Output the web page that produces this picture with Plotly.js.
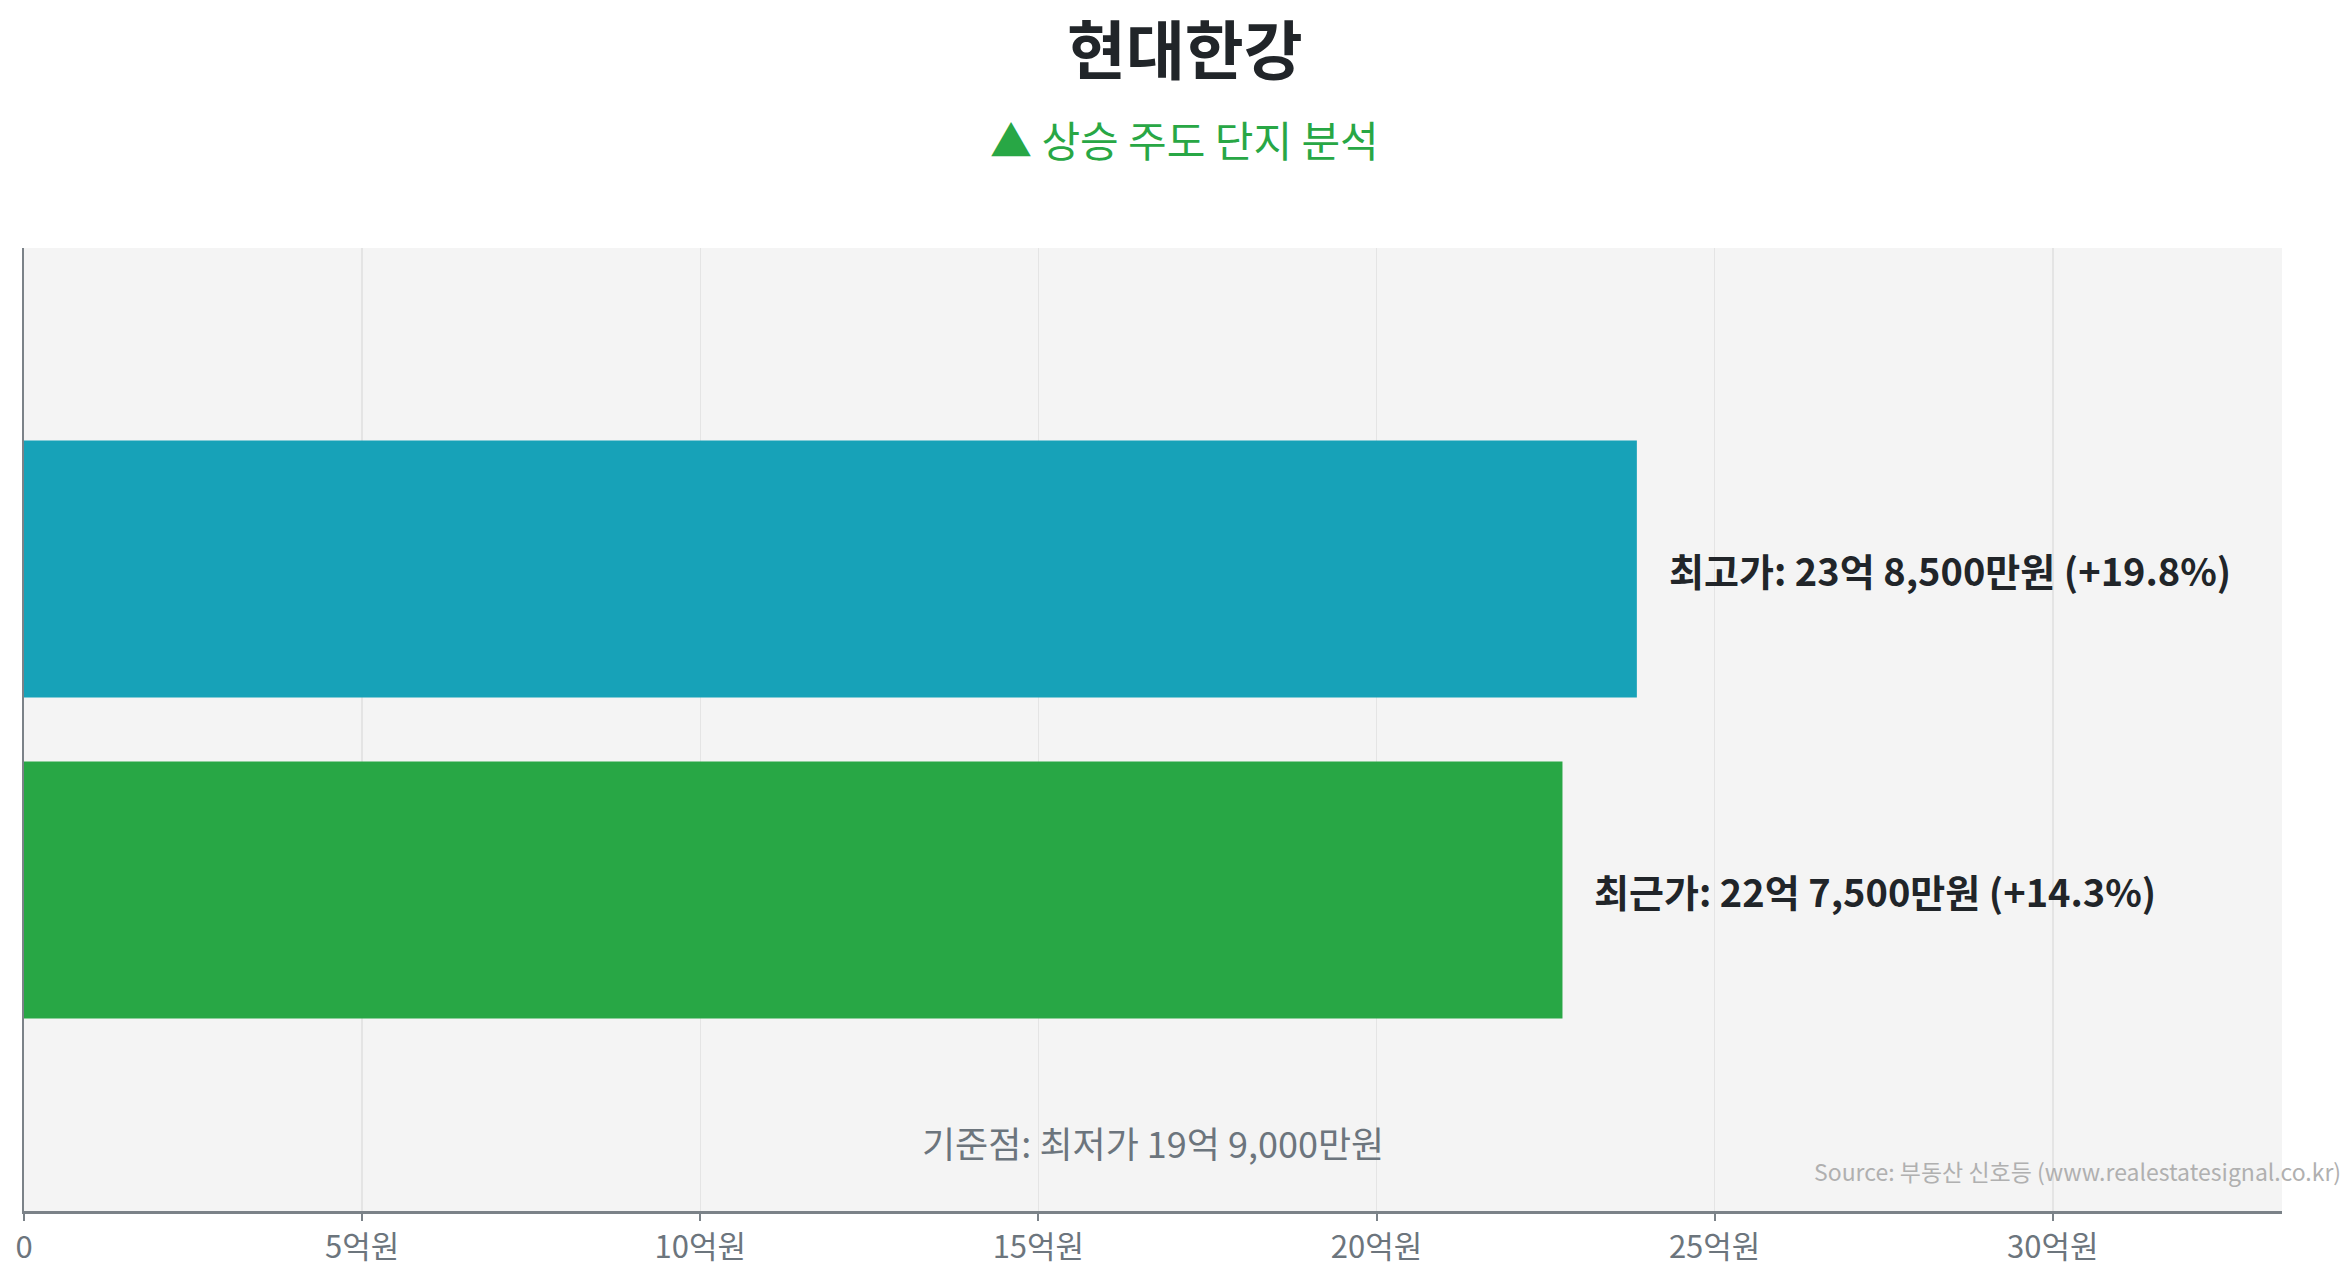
<!DOCTYPE html>
<html>
<head>
<meta charset="utf-8">
<script src="https://cdn.plot.ly/plotly-3.0.1.min.js"></script>
<style>
  html, body { margin: 0; padding: 0; background: #ffffff; }
  #chart { width: 2345px; height: 1268px; }
</style>
</head>
<body>
<div id="chart"></div>
<script>
// 단위: 억원
const categories = ['기준점', '최근가', '최고가'];
const prices = [null, 22.75, 23.85];
const barColors = ['#ffffff', '#28a745', '#17a2b8'];
const priceLabels = ['', '최근가: 22억 7,500만원 (+14.3%)', '최고가: 23억 8,500만원 (+19.8%)'];
const baseLabel = '기준점: 최저가 19억 9,000만원';
const tickVals = [0, 5, 10, 15, 20, 25, 30];
const tickText = ['0', '5억원', '10억원', '15억원', '20억원', '25억원', '30억원'];

const fontFamily = '"Noto Sans CJK KR", "Noto Sans", sans-serif';
const maxPrice = Math.max(...prices.filter(v => v !== null));

var trace = {
    type: 'bar', orientation: 'h',
    y: categories, x: prices,
    marker: { color: barColors },
    hoverinfo: 'skip'
};

// 막대 오른쪽 라벨
const labelAnnotations = categories.map((c, i) => ({
    x: prices[i], y: c, xref: 'x', yref: 'y',
    text: priceLabels[i] ? '<b>' + priceLabels[i] + '</b>' : '',
    showarrow: false, xanchor: 'left', xshift: 30,
    font: { family: fontFamily, size: 38, color: '#212529' }
})).filter(a => a.text);

const layout = {
    width: 2345, height: 1268,
    paper_bgcolor: '#ffffff', plot_bgcolor: '#f4f4f4',
    font: { family: fontFamily, color: '#6c757d' },
    margin: { t: 248, b: 57, l: 24, r: 63 },
    showlegend: false,
    bargap: 0.2,
    xaxis: {
        range: [0, maxPrice * 1.4],
        tickvals: tickVals, ticktext: tickText,
        tickfont: { family: fontFamily, size: 31, color: '#6c757d' },
        showgrid: true, gridcolor: '#e4e4e4', gridwidth: 1.5,
        zeroline: false,
        showline: true, linecolor: '#7b8288', linewidth: 3,
        ticks: 'outside', ticklen: 7, tickwidth: 2, tickcolor: '#7b8288'
    },
    yaxis: {
        range: [0, categories.length],
        showticklabels: false, showgrid: false, zeroline: false,
        showline: true, linecolor: '#7b8288', linewidth: 2
    },
    annotations: [
        // 제목
        {
            text: '<b>현대한강</b>',
            x: 0.514, xref: 'paper', xanchor: 'center',
            y: 1 + (248 - 46) / 963, yref: 'paper', yanchor: 'middle',
            showarrow: false,
            font: { family: fontFamily, size: 64, color: '#212529' }
        },
        {
            text: '▲ 상승 주도 단지 분석',
            x: 0.514, xref: 'paper', xanchor: 'center',
            y: 1 + (248 - 138) / 963, yref: 'paper', yanchor: 'middle',
            showarrow: false,
            font: { family: fontFamily, size: 42, color: '#28a745' }
        },
        {
            text: baseLabel,
            x: 0.5, xref: 'paper', xanchor: 'center',
            y: (1211 - 1142) / 963, yref: 'paper', yanchor: 'middle',
            showarrow: false,
            font: { family: fontFamily, size: 36, color: '#6c757d' }
        },
        {
            text: 'Source: 부동산 신호등 (www.realestatesignal.co.kr)',
            x: 1, xref: 'paper', xanchor: 'right', xshift: 61,
            y: (1211 - 1171) / 963, yref: 'paper', yanchor: 'middle',
            showarrow: false,
            font: { family: fontFamily, size: 23, color: '#b0b0b0' }
        },
        ...labelAnnotations
    ]
};

Plotly.newPlot('chart', [trace], layout, { displayModeBar: false, staticPlot: true });
</script>
</body>
</html>
